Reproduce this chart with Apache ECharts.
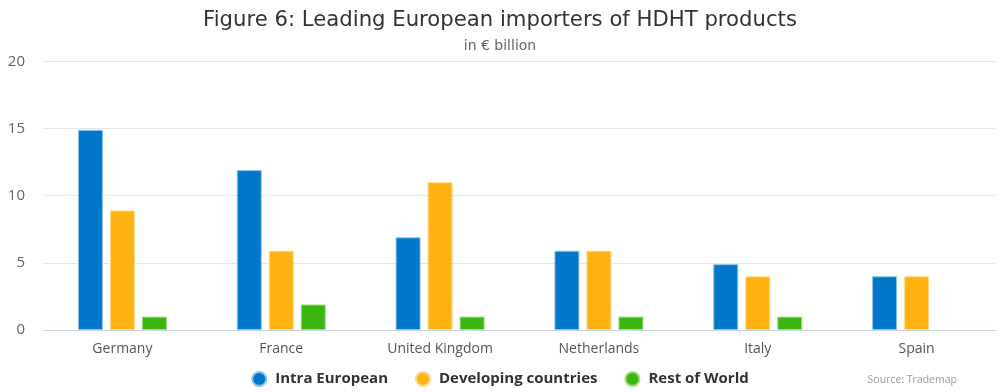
<!DOCTYPE html>
<html>
<head>
<meta charset="utf-8">
<script src="https://cdn.jsdelivr.net/npm/echarts@6/dist/echarts.min.js"></script>
<style>
html,body{margin:0;padding:0;background:#fff;}
#chart{width:1000px;height:392px;}
</style>
</head>
<body>
<div id="chart"></div>
<script>
var categories = ['Germany', 'France', 'United Kingdom', 'Netherlands', 'Italy', 'Spain'];
var intraEuropean = [14.9, 11.9, 6.9, 5.9, 4.9, 4.0];
var developingCountries = [8.9, 5.9, 11.0, 5.9, 4.0, 4.0];
var restOfWorld = [1.0, 1.9, 1.0, 1.0, 1.0, null];
var yTicks = [0, 5, 10, 15, 20];

var chart = echarts.init(document.getElementById('chart'), null, {renderer: 'canvas'});
var font = '"Open Sans", sans-serif';
function mk(name, data, color, border) {
  return {
    name: name, type: 'bar', data: data, barWidth: 25, barGap: '28%',
    itemStyle: {color: color, borderColor: border, borderWidth: 1},
    emphasis: {disabled: true}
  };
}
chart.setOption({
  animation: false,
  title: [
    {text: 'Figure 6: Leading European importers of HDHT products', left: 'center', top: 5,
     textStyle: {fontFamily: '"DejaVu Sans", sans-serif', fontSize: 21.2, fontWeight: 'normal', color: '#333333'}},
    {text: 'in € billion', left: 'center', top: 34,
     textStyle: {fontFamily: '"DejaVu Sans", sans-serif', fontSize: 14, fontWeight: 'normal', color: '#666666'}},
    {text: 'Source: Trademap', right: 38, top: 370,
     textStyle: {fontFamily: font, fontSize: 10.5, fontWeight: 'normal', color: '#999999'}}
  ],
  legend: {
    data: ['Intra European', 'Developing countries', 'Rest of World'],
    left: 'center', top: 366, icon: 'circle', itemWidth: 14, itemHeight: 14, itemGap: 27,
    textStyle: {fontFamily: font, fontSize: 15, fontWeight: 'bold', color: '#333333', padding: [0, 0, 0, 4]}
  },
  grid: {left: 43, right: 4, top: 61.3, bottom: 62, containLabel: false},
  xAxis: {
    type: 'category', data: categories,
    axisLine: {lineStyle: {color: '#ccd6eb', width: 1}},
    axisTick: {show: false},
    axisLabel: {fontFamily: font, fontSize: 14, color: '#555555', margin: 12}
  },
  yAxis: {
    type: 'value', min: yTicks[0], max: yTicks[yTicks.length - 1], interval: 5,
    axisLine: {show: false}, axisTick: {show: false},
    splitLine: {lineStyle: {color: '#e6e6e6', width: 1}},
    axisLabel: {fontFamily: font, fontSize: 15, color: '#666666', margin: 18}
  },
  series: [
    mk('Intra European', intraEuropean, '#0077c8', '#8fc3e8'),
    mk('Developing countries', developingCountries, '#feb313', '#ffd98a'),
    mk('Rest of World', restOfWorld, '#3cb60f', '#9ddd86')
  ]
});
</script>
</body>
</html>
